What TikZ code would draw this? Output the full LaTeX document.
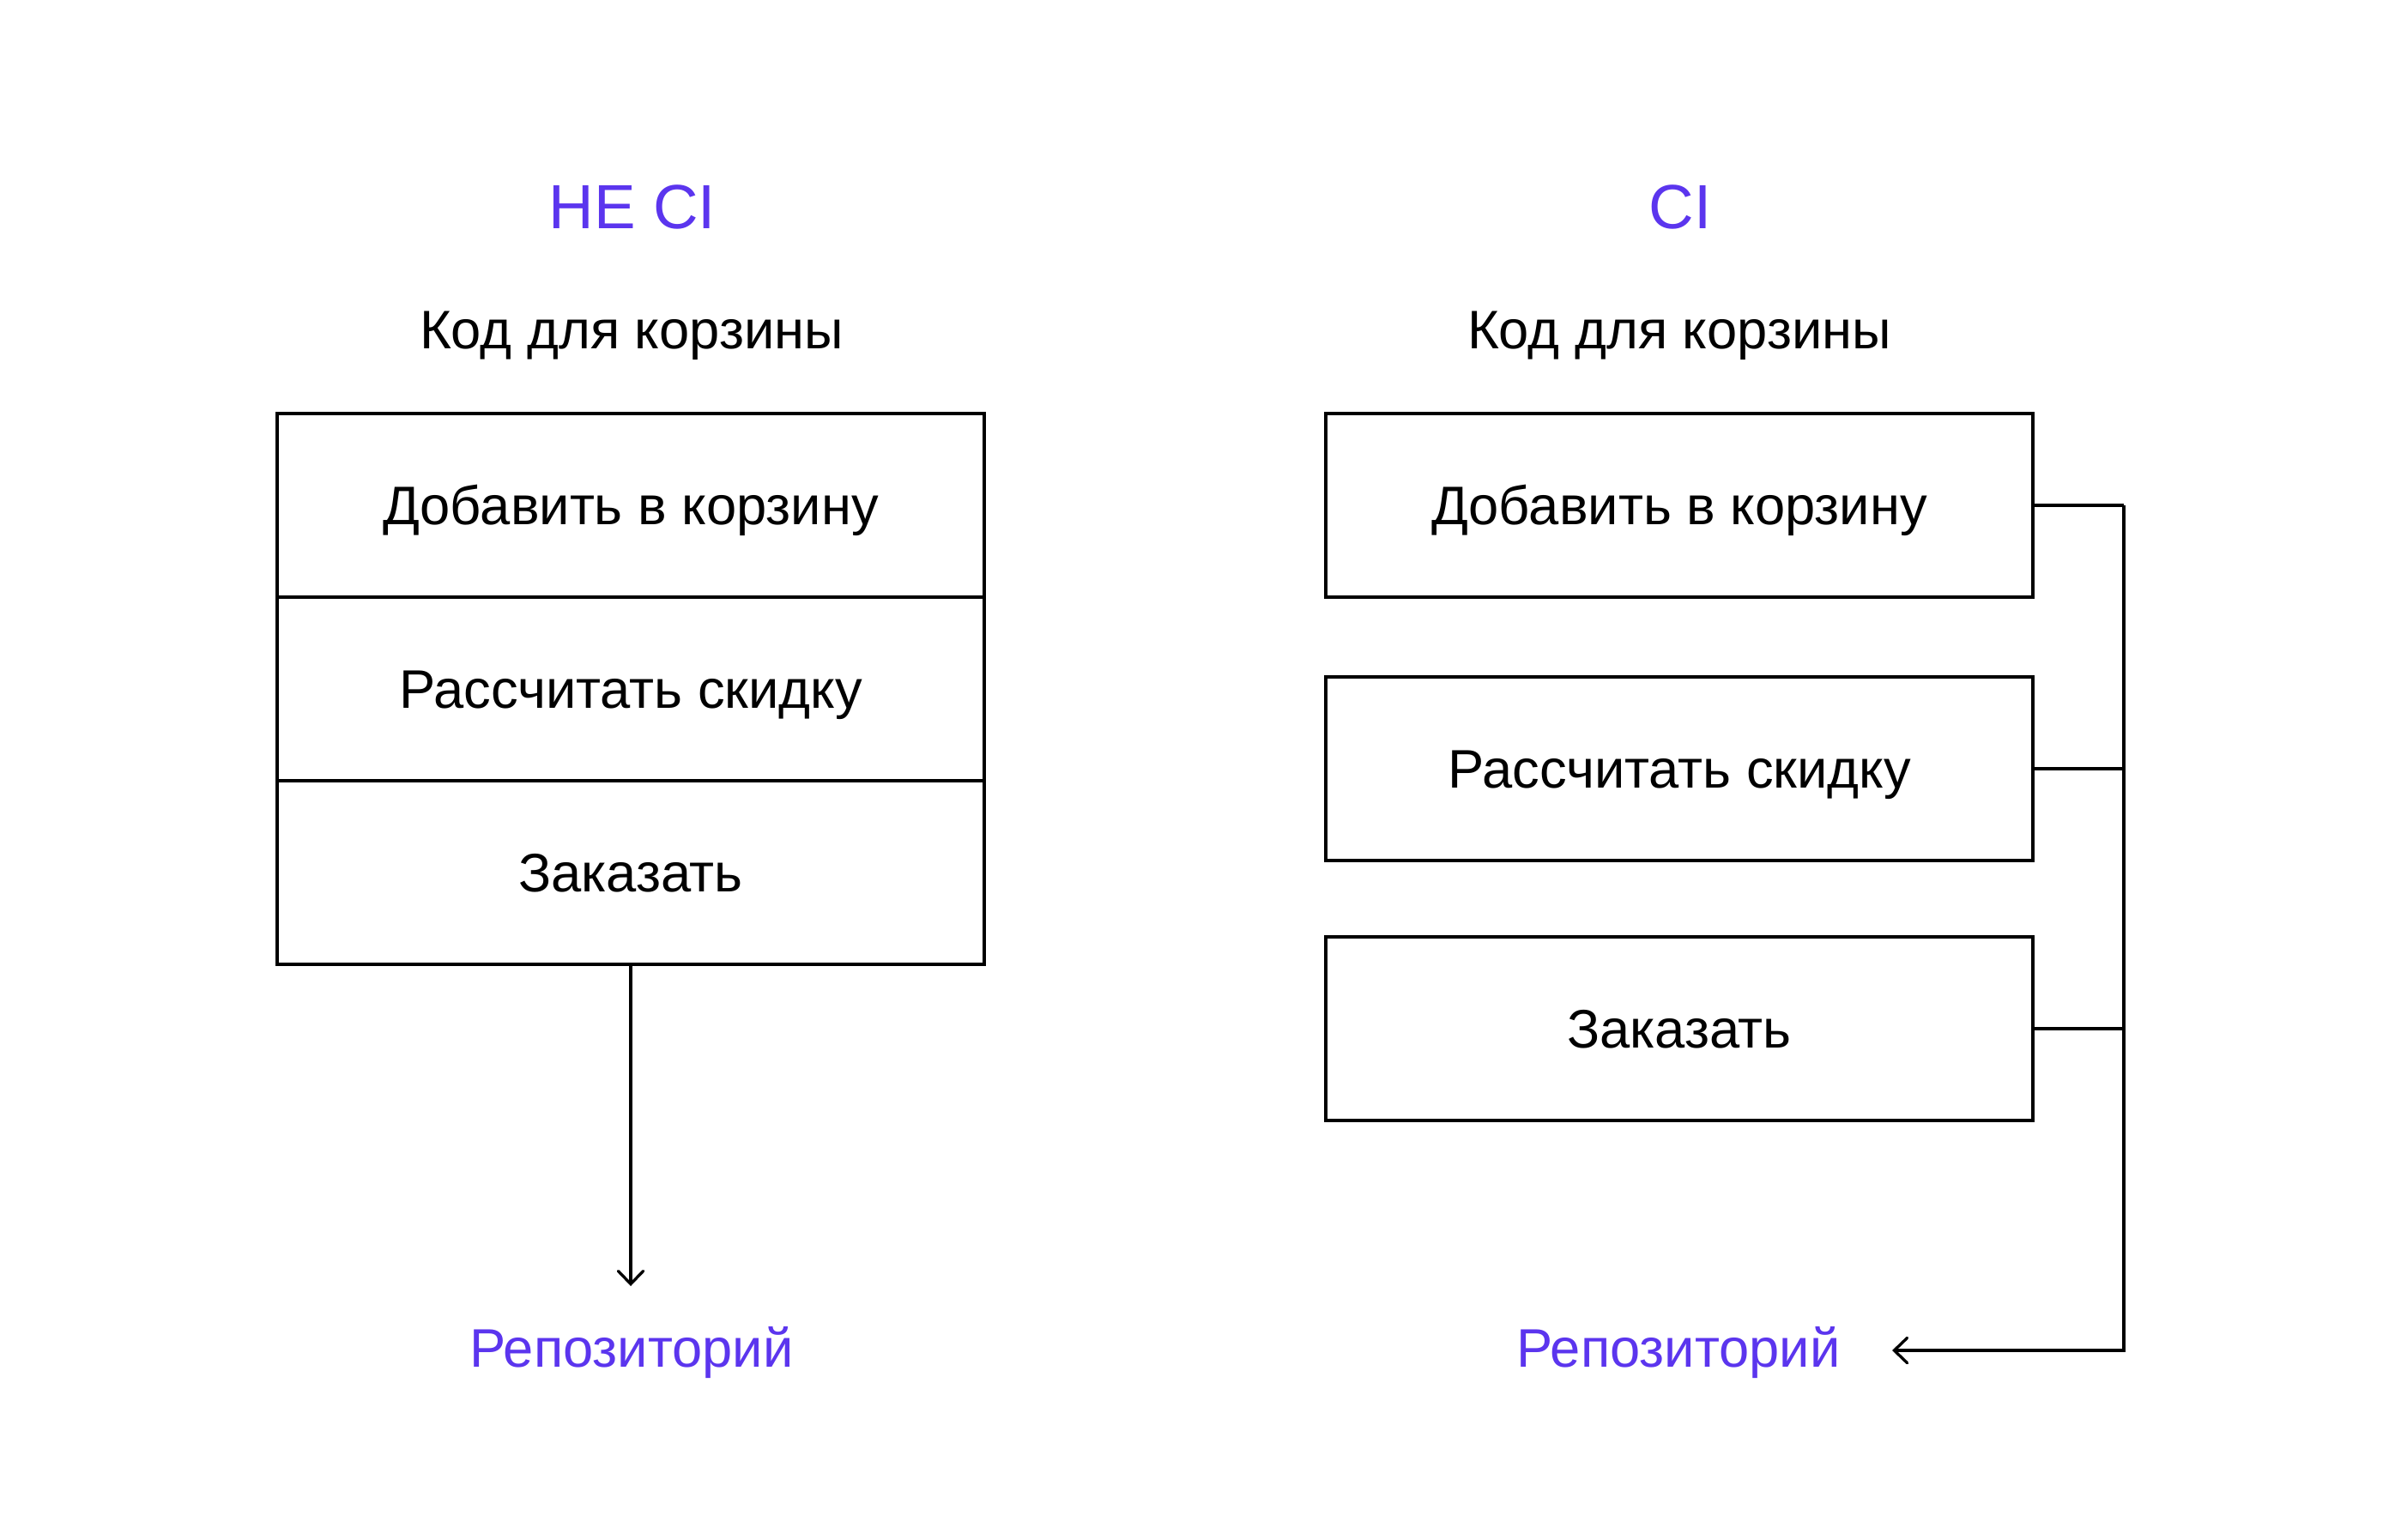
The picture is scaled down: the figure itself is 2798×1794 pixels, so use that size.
\documentclass[tikz,border=0pt]{standalone}
\usepackage{fontspec}
\setmainfont{Liberation Sans}
\usetikzlibrary{arrows.meta}
\definecolor{accent}{HTML}{5B35EE}
\begin{document}
\begin{tikzpicture}[x=0.01cm,y=-0.01cm,
  box/.style={draw,line width=1.14pt,minimum width=8.24cm,minimum height=2.14cm,
    inner sep=0pt,outer sep=0pt,font=\fontsize{18}{21}\selectfont,
    text height=12.9pt,text depth=0pt},
  heading/.style={text=accent,font=\fontsize{20.7}{24}\selectfont,inner sep=0pt,anchor=base},
  caption/.style={font=\fontsize{18}{21}\selectfont,inner sep=0pt,anchor=base},
  repo/.style={caption,text=accent},
  link/.style={line width=0.95pt},
  arr/.style={link,-{Straight Barb[length=4.3pt,width=8.3pt,line cap=round]}}]
\useasboundingbox (0,0) rectangle (2798,1794);

% left side
\node[heading] (t1) at (737,266) {НЕ CI};
\node[caption] (c1) at (736,406) {Код для корзины};
\node[box] (l1) at (735,589) {Добавить в корзину};
\node[box] (l2) at (735,803) {Рассчитать скидку};
\node[box] (l3) at (735,1017) {Заказать};
\node[repo] (rp1) at (736,1593) {Репозиторий};
\coordinate (ltip) at (735,1499);
\draw[arr] (l3.south) -- (ltip);

% right side
\node[heading] (t2) at (1958,266) {CI};
\node[caption] (c2) at (1957,406) {Код для корзины};
\node[box] (r1) at (1957,589) {Добавить в корзину};
\node[box] (r2) at (1957,896) {Рассчитать скидку};
\node[box] (r3) at (1957,1199) {Заказать};
\node[repo] (rp2) at (1956,1593) {Репозиторий};
\coordinate (j1) at (2475,589);
\coordinate (j2) at (2475,896);
\coordinate (j3) at (2475,1199);
\coordinate (jb) at (2475,1574);
\coordinate (rtip) at (2205,1574);
\draw[link] (r1.east) -- (j1);
\draw[link] (r2.east) -- (j2);
\draw[link] (r3.east) -- (j3);
\draw[arr] (j1) -- (jb) -- (rtip);
\end{tikzpicture}
\end{document}
